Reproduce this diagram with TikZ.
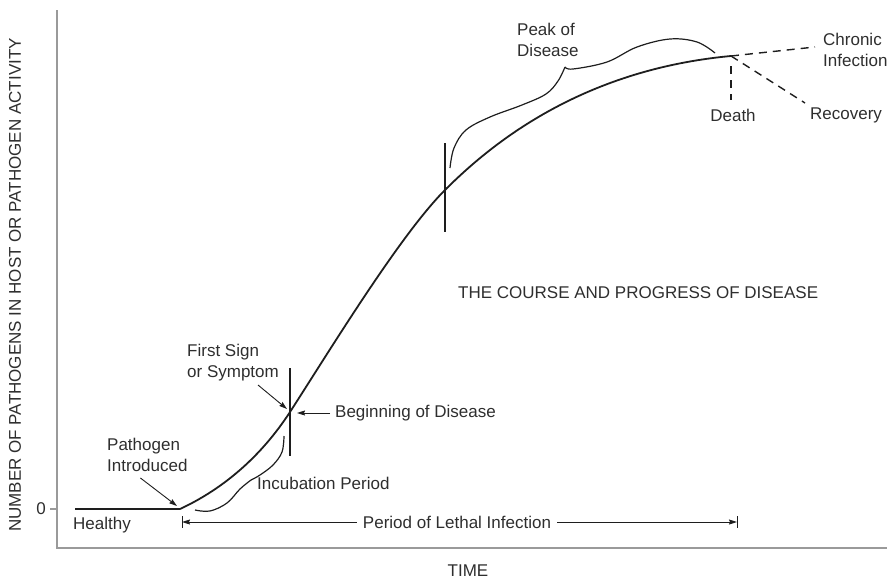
\documentclass[tikz,border=0pt]{standalone}
\usepackage{fontspec}
\setmainfont{Liberation Sans}
\usetikzlibrary{arrows.meta}
\definecolor{txtgray}{HTML}{2E2E2E}
\definecolor{axisgray}{HTML}{9A9A9A}
\definecolor{inkdark}{HTML}{1E1E1E}
\begin{document}
\begin{tikzpicture}[x=1pt,y=-1pt,
    lbl/.style={text=txtgray,font=\fontsize{17}{21}\selectfont,inner sep=0pt,align=left},
    axis/.style={draw=axisgray,line width=2pt},
    curve/.style={draw=inkdark,line width=1.8pt},
    brace/.style={draw=inkdark,line width=1.2pt},
    marker/.style={draw=inkdark,line width=1.2pt},
    fate/.style={draw=inkdark,line width=1.4pt,dash pattern=on 8pt off 6pt},
    arr/.style={draw=inkdark,line width=0.9pt,-{Stealth[length=8pt,width=5pt,inset=1pt]}}]
        \useasboundingbox (0,0) rectangle (887,582);
        % define point
        \coordinate (O)  at (180,509);
        \coordinate (S)  at (290,412);
        \coordinate (M)  at (445,190);
        \coordinate (E)  at (731,56);
        \coordinate (chr) at (815,47);
        \coordinate (rec) at (805,103);
        \coordinate (dth) at (731,100);
        \coordinate (lethA) at (182,522);
        \coordinate (lethB) at (737,522);
        \coordinate (fsTail) at (258,385);
        \coordinate (bodTip) at (297,413);
        % axes
        \draw[axis] (57,10) -- (57,548) -- (887,548);
        \draw[axis] (50,509) -- (57,509);
        \node[lbl] (zero) at (41,509) {0};
        \node[lbl,rotate=90] (ylab) at (15,285) {NUMBER OF PATHOGENS IN HOST OR PATHOGEN ACTIVITY};
        \node[lbl] (time) at (468,571) {TIME};
        % course of disease
        \draw[curve] (75,509) -- (O);
        \draw[curve] (O) .. controls (225,488) and (262,455) .. (S)
                         .. controls (330,350) and (400,235) .. (M)
                         .. controls (490,145) and (580,70) .. (E);
        \draw[fate] (E) -- (chr);
        \draw[fate] (E) -- (rec);
        \draw[fate,shorten <=10pt] (E) -- (dth);
        % markers
        \draw[marker] (290,368) -- (290,456);
        \draw[marker] (445,143) -- (445,232);
        % braces
        \draw[brace] plot[smooth,tension=0.6] coordinates {(195,510) (210,511) (227,503) (240,489) (251,480)};
        \draw[brace] plot[smooth,tension=0.6] coordinates {(251,480) (260,475) (273,465) (282,452) (284,436)};
        \draw[brace] plot[smooth,tension=0.6] coordinates {(450,168) (454,148) (466,130) (490,117) (522,105) (546,94) (558,81) (565,67)};
        \draw[brace] plot[smooth,tension=0.6] coordinates {(565,67) (573,69) (607,62) (637,47) (670,39) (697,42) (715,53)};
        % labels
        \node[lbl,anchor=west] (healthy) at (73,525) {Healthy};
        \node[lbl,anchor=west] (path) at (107,455) {Pathogen\\Introduced};
        \node[lbl,anchor=west] (fs) at (187,363) {First Sign\\or Symptom};
        \node[lbl,anchor=west] (bod) at (335,413) {Beginning of Disease};
        \node[lbl,anchor=west] (incub) at (257,483) {Incubation Period};
        \node[lbl,anchor=west] (peak) at (517,40) {Peak of\\Disease};
        \node[lbl,anchor=west] (chronic) at (823,50) {Chronic\\Infection};
        \node[lbl] (death) at (733,115) {Death};
        \node[lbl,anchor=west] (recovery) at (810,115) {Recovery};
        \node[lbl,anchor=west] (course) at (458,293) {THE COURSE AND PROGRESS OF DISEASE};
        \node[lbl] (leth) at (457,522) {Period of Lethal Infection};
        % arrows
        \draw[arr] ([xshift=-7pt,yshift=-6pt]path.south) -- ([xshift=-3pt,yshift=3pt]O);
        \draw[arr] (fsTail) -- ([xshift=-3pt,yshift=3pt]S);
        \draw[arr,shorten <=5pt] (bod.west) -- (bodTip);
        \draw[arr,shorten <=6pt] (leth.west) -- (lethA);
        \draw[arr,shorten <=6pt] (leth.east) -- (lethB);
        \draw[marker,line width=0.9pt] (lethA) ++(0,-6) -- ++(0,12);
        \draw[marker,line width=0.9pt] (lethB) ++(0,-6) -- ++(0,12);
    \end{tikzpicture}
\end{document}
